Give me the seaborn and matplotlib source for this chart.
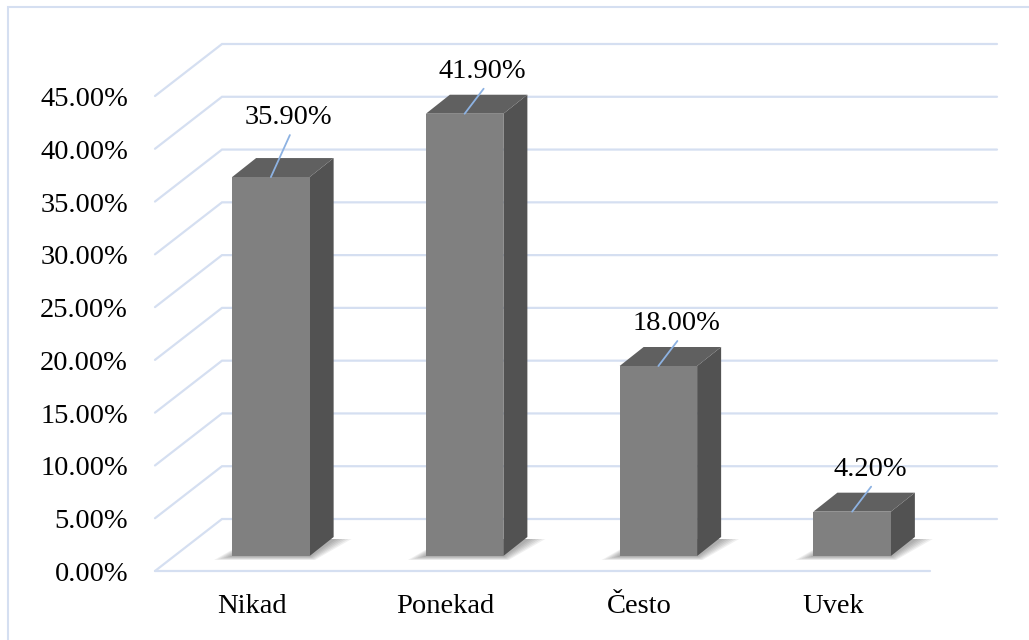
import matplotlib.pyplot as plt
from matplotlib.patches import Polygon, Rectangle
import numpy as np
import seaborn as sns

# data
categories = ['Nikad', 'Ponekad', 'Često', 'Uvek']
values = [35.9, 41.9, 18.0, 4.2]
yticks = [0, 5, 10, 15, 20, 25, 30, 35, 40, 45]
tick_labels = [f'{v:.2f}%' for v in yticks]
value_labels = [f'{v:.2f}%' for v in values]

sns.set_theme(style='white')
plt.rcParams['font.family'] = ['Liberation Serif', 'DejaVu Serif']
FS = 20.5

GRID = '#D5DFF1'
FRONT = '#808080'
TOP = '#606060'
SIDE = '#525252'
LEADER = '#8DB2E2'

W, H = 1029, 640
fig = plt.figure(figsize=(W / 100, H / 100), dpi=100)
fig.patch.set_facecolor('white')
# axes = the plane the bars stand on (middle of the 3d floor)
ax_px = (174, 84, 775, 475)
ax = fig.add_axes([ax_px[0] / W, ax_px[1] / H, ax_px[2] / W, ax_px[3] / H])

sns.barplot(x=categories, y=values, color=FRONT, width=0.4, saturation=1,
            ax=ax, zorder=4, edgecolor='none')
ax.set_xlim(-0.5, 3.5)
ax.set_ylim(0, 45)
ax.axis('off')

# pixel -> data helpers (dx right, dy down in image pixels)
sx = 4.0 / ax_px[2]
sy = 45.0 / ax_px[3]


def off(x, y, dx, dy):
    return (x + dx * sx, y - dy * sy)


FRONT_OFF = (-19, 15)
BACK_OFF = (48, -37)
DEPTH = (24, -19)

# 3d walls / gridlines
for v in yticks:
    p0 = off(-0.5, v, *FRONT_OFF)
    p1 = off(-0.5, v, *BACK_OFF)
    p2 = off(3.5, v, *BACK_OFF)
    ax.plot([p0[0], p1[0], p2[0]], [p0[1], p1[1], p2[1]], color=GRID, lw=1.6,
            clip_on=False, zorder=1, solid_joinstyle='miter')
f0 = off(-0.5, 0, *FRONT_OFF)
f1 = off(3.5, 0, *FRONT_OFF)
ax.plot([f0[0], f1[0]], [f0[1], f1[1]], color=GRID, lw=1.6, clip_on=False, zorder=1)

# y tick labels on the front edge
for v, lab in zip(yticks, tick_labels):
    x, y = off(-0.5, v, FRONT_OFF[0] - 27, FRONT_OFF[1] + 10)
    ax.text(x, y, lab, ha='right', va='baseline', fontsize=FS, color='black')

# category labels
for i, lab in enumerate(categories):
    x, y = off(i, 0, -19, 57)
    ax.text(x, y, lab, ha='center', va='baseline', fontsize=FS, color='black')

# extrude bars: shadow, side and top faces
extra = [-17, 0, 0, 0]
for i, p in enumerate(ax.patches):
    x0, w, h = p.get_x(), p.get_width(), p.get_height()
    x1 = x0 + w
    # soft shadow on the floor
    for k in range(6):
        g = 3 + k * 3
        foot = [off(x0, 0, -g, 1 + k * 0.6), off(x1, 0, g * 0.3, 1 + k * 0.6),
                off(x1, 0, DEPTH[0] + g, DEPTH[1] + 2), off(x0, 0, DEPTH[0] - g * 0.3, DEPTH[1] + 2)]
        ax.add_patch(Polygon(foot, closed=True, facecolor='black', alpha=0.06,
                             edgecolor='none', zorder=2, clip_on=False))
    side = [(x1, 0), (x1, h), off(x1, h, *DEPTH), off(x1, 0, *DEPTH)]
    top = [(x0, h), (x1, h), off(x1, h, *DEPTH), off(x0, h, *DEPTH)]
    ax.add_patch(Polygon(side, closed=True, facecolor=SIDE, edgecolor='none',
                         zorder=3, clip_on=False))
    ax.add_patch(Polygon(top, closed=True, facecolor=TOP, edgecolor='none',
                         zorder=3, clip_on=False))

    # value label with leader line
    cx = x0 + w / 2
    lx, ly = off(cx, h, 18, -36 + extra[i])
    ex, ey = off(cx, h, 19, -25 + extra[i])
    ax.plot([cx, ex], [h, ey], color=LEADER, lw=1.3, clip_on=False, zorder=5)
    ax.text(lx, ly, value_labels[i], ha='center', va='baseline', fontsize=FS,
            color='black', zorder=6)

# chart area frame
fig.add_artist(Rectangle((8 / W, -0.1), 1.2, 1.1 - 7 / H, transform=fig.transFigure,
                         fill=False, edgecolor=GRID, lw=1.5))

fig.savefig('out.png', dpi=100, facecolor='white')
